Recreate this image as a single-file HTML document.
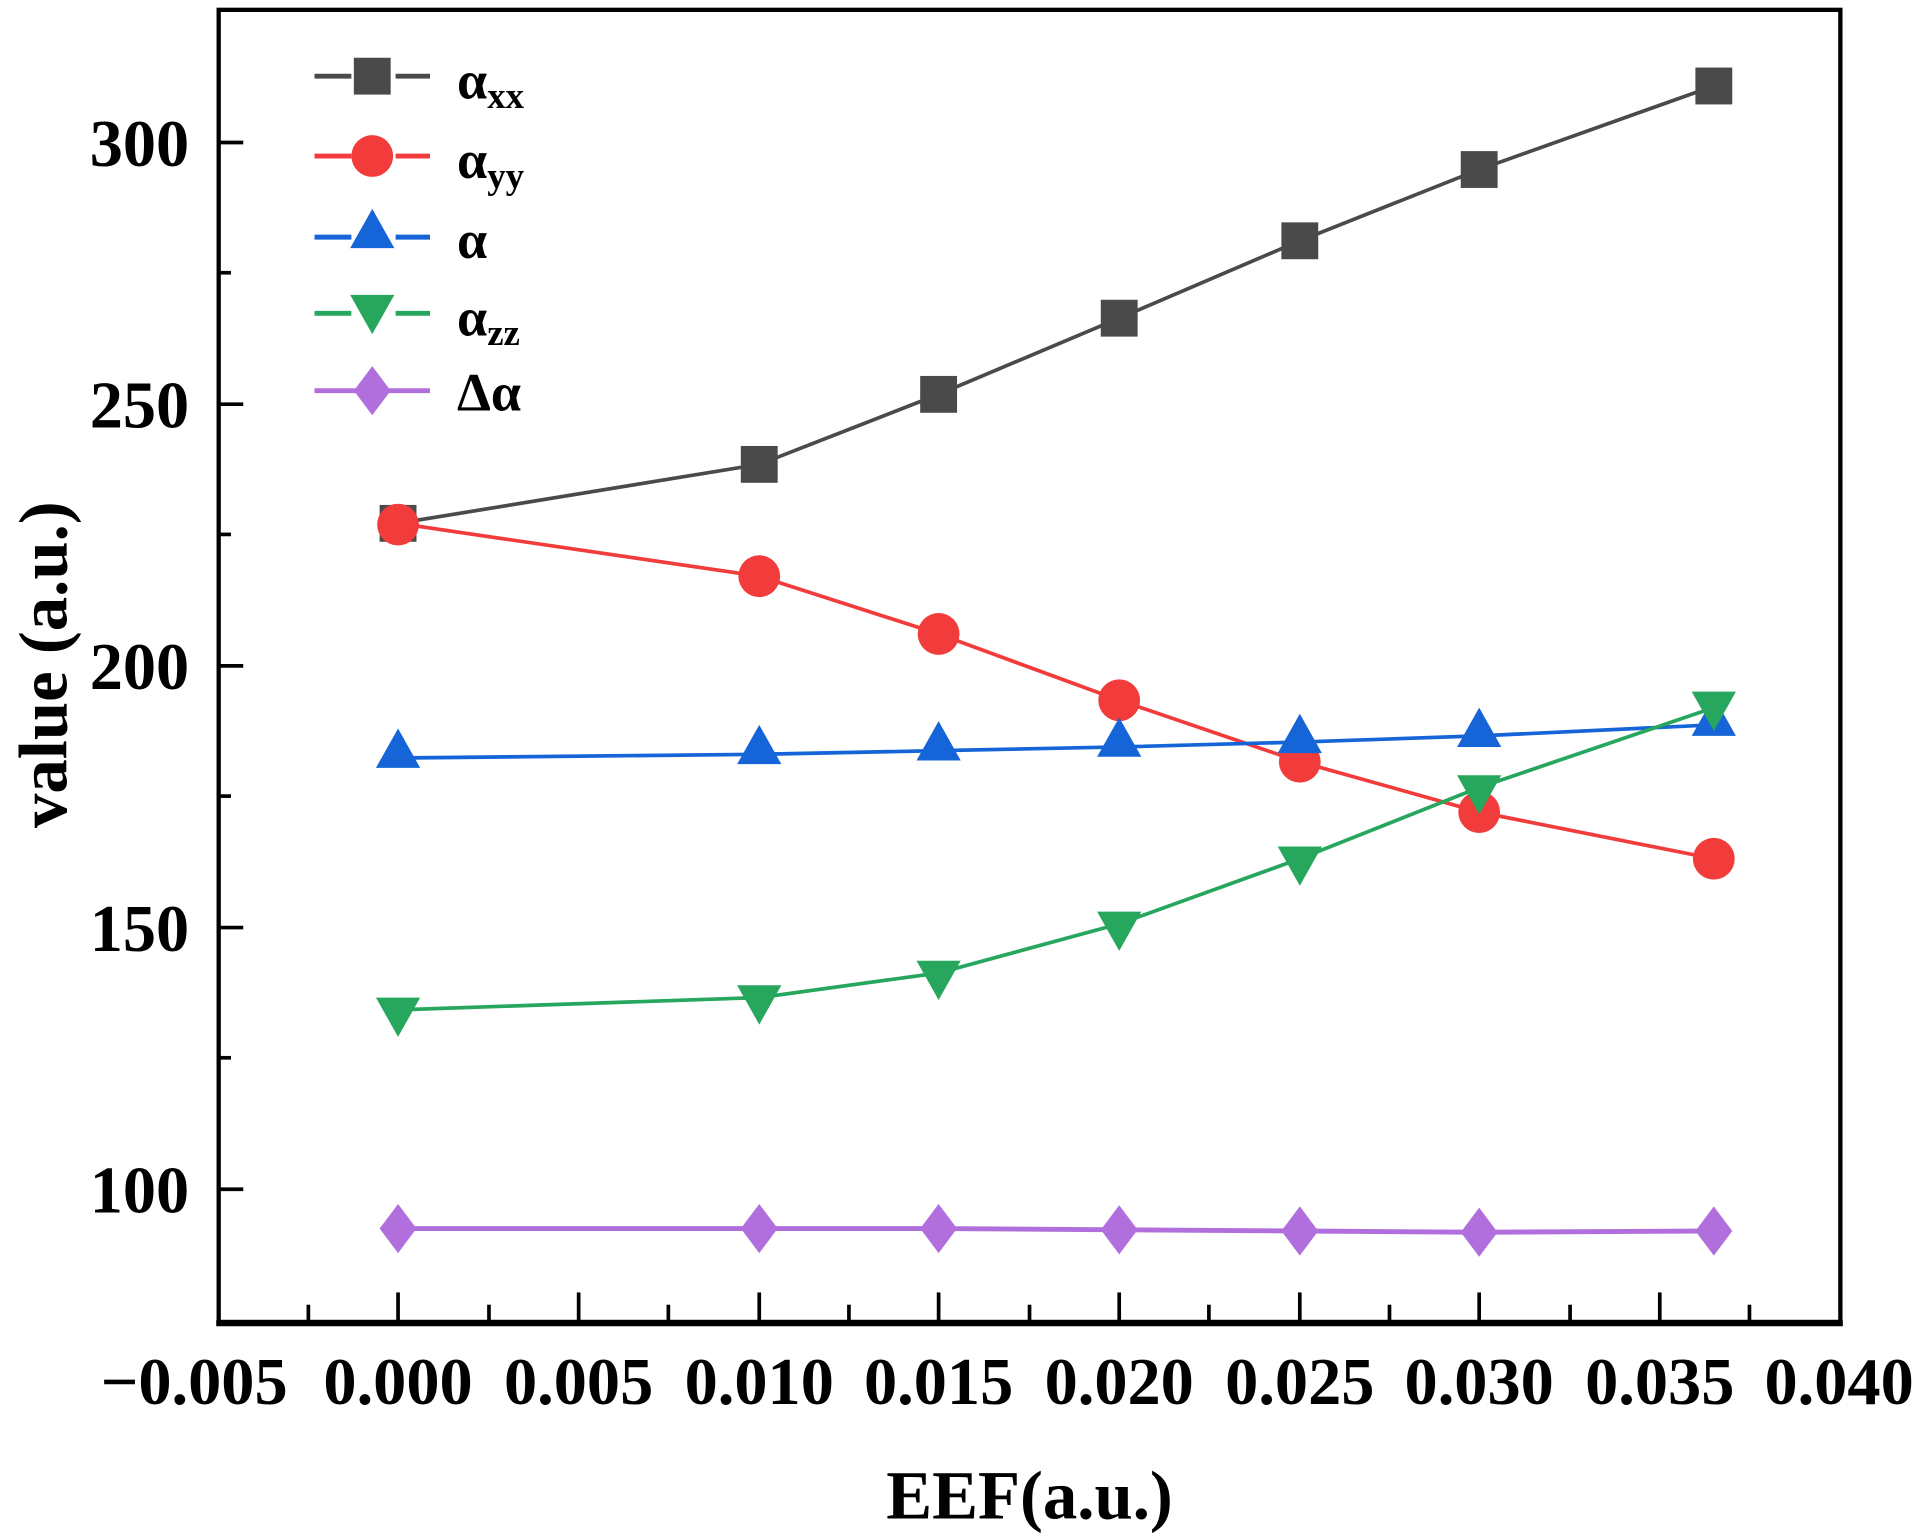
<!DOCTYPE html>
<html><head><meta charset="utf-8"><style>html,body{margin:0;padding:0;background:#fff;}svg{display:block}</style></head>
<body>
<svg width="1919" height="1539" viewBox="0 0 1562 1252.7" xmlns="http://www.w3.org/2000/svg" font-family="Liberation Serif, serif" font-weight="bold">
<defs>
<g id="sq"><rect x="-15" y="-15" width="30" height="30" fill="#4a4a4a"/></g>
<g id="ci"><circle r="17" fill="#f23c3c"/></g>
<g id="tu"><polygon points="0,-19 18,13 -18,13" fill="#1565d8"/></g>
<g id="td"><polygon points="0,19 18,-13 -18,-13" fill="#27a65e"/></g>
<g id="di"><polygon points="0,-20 15,0 0,20 -15,0" fill="#b06fdc"/></g>
</defs>
<rect x="178" y="8" width="1320" height="1068" fill="none" stroke="#000" stroke-width="3.5"/>
<line x1="176" y1="1077" x2="1500" y2="1077" stroke="#000" stroke-width="5"/>
<g stroke="#000" stroke-width="3">
<line x1="251" y1="1076" x2="251" y2="1062"/><line x1="324" y1="1076" x2="324" y2="1052"/>
<line x1="398" y1="1076" x2="398" y2="1062"/><line x1="471" y1="1076" x2="471" y2="1052"/>
<line x1="544" y1="1076" x2="544" y2="1062"/><line x1="618" y1="1076" x2="618" y2="1052"/>
<line x1="691" y1="1076" x2="691" y2="1062"/><line x1="764" y1="1076" x2="764" y2="1052"/>
<line x1="838" y1="1076" x2="838" y2="1062"/><line x1="911" y1="1076" x2="911" y2="1052"/>
<line x1="984" y1="1076" x2="984" y2="1062"/><line x1="1058" y1="1076" x2="1058" y2="1052"/>
<line x1="1131" y1="1076" x2="1131" y2="1062"/><line x1="1204" y1="1076" x2="1204" y2="1052"/>
<line x1="1278" y1="1076" x2="1278" y2="1062"/><line x1="1351" y1="1076" x2="1351" y2="1052"/>
<line x1="1424" y1="1076" x2="1424" y2="1062"/>
<line x1="178" y1="116" x2="198" y2="116"/><line x1="178" y1="222" x2="188" y2="222"/>
<line x1="178" y1="329" x2="198" y2="329"/><line x1="178" y1="435" x2="188" y2="435"/>
<line x1="178" y1="542" x2="198" y2="542"/><line x1="178" y1="648" x2="188" y2="648"/>
<line x1="178" y1="755" x2="198" y2="755"/><line x1="178" y1="861" x2="188" y2="861"/>
<line x1="178" y1="968" x2="198" y2="968"/>
</g>
<g font-size="54" text-anchor="end">
<text x="154" y="135">300</text><text x="154" y="348">250</text><text x="154" y="561">200</text><text x="154" y="774">150</text><text x="154" y="987">100</text>
</g>
<g font-size="54" text-anchor="middle">
<text x="158" y="1143">−0.005</text><text x="324" y="1143">0.000</text><text x="471" y="1143">0.005</text><text x="618" y="1143">0.010</text><text x="764" y="1143">0.015</text><text x="911" y="1143">0.020</text><text x="1058" y="1143">0.025</text><text x="1204" y="1143">0.030</text><text x="1351" y="1143">0.035</text><text x="1497" y="1143">0.040</text>
</g>
<text x="838" y="1236" font-size="56" text-anchor="middle">EEF(a.u.)</text>
<text transform="translate(54,541) rotate(-90)" font-size="56" text-anchor="middle">value (a.u.)</text>
<polyline fill="none" stroke="#4a4a4a" stroke-width="3" points="324,426 618,378 764,321 911,259 1058,196 1204,138 1395,70"/>
<polyline fill="none" stroke="#f23c3c" stroke-width="3" points="324,426 618,469 764,516 911,570 1058,620 1204,661 1395,699"/>
<polyline fill="none" stroke="#1565d8" stroke-width="3" points="324,617 618,614 764,611 911,608 1058,604 1204,599 1395,590"/>
<polyline fill="none" stroke="#27a65e" stroke-width="3" points="324,822 618,812 764,792 911,752 1058,699 1204,641 1395,576"/>
<polyline fill="none" stroke="#b06fdc" stroke-width="4" points="324,1000 618,1000 764,1000 911,1001 1058,1002 1204,1003 1395,1002"/>
<use href="#sq" x="324" y="426"/><use href="#sq" x="618" y="378"/><use href="#sq" x="764" y="321"/><use href="#sq" x="911" y="259"/><use href="#sq" x="1058" y="196"/><use href="#sq" x="1204" y="138"/><use href="#sq" x="1395" y="70"/>
<use href="#ci" x="324" y="427"/><use href="#ci" x="618" y="469"/><use href="#ci" x="764" y="516"/><use href="#ci" x="911" y="570"/><use href="#ci" x="1058" y="620"/><use href="#ci" x="1204" y="661"/><use href="#ci" x="1395" y="699"/>
<use href="#tu" x="324" y="612"/><use href="#tu" x="618" y="609"/><use href="#tu" x="764" y="606"/><use href="#tu" x="911" y="603"/><use href="#tu" x="1058" y="600"/><use href="#tu" x="1204" y="595"/><use href="#tu" x="1395" y="586"/>
<use href="#td" x="324" y="825"/><use href="#td" x="618" y="815"/><use href="#td" x="764" y="795"/><use href="#td" x="911" y="755"/><use href="#td" x="1058" y="702"/><use href="#td" x="1204" y="644"/><use href="#td" x="1395" y="576"/>
<use href="#di" x="324" y="1000"/><use href="#di" x="618" y="1000"/><use href="#di" x="764" y="1000"/><use href="#di" x="911" y="1001"/><use href="#di" x="1058" y="1002"/><use href="#di" x="1204" y="1003"/><use href="#di" x="1395" y="1002"/>
<g stroke-width="4">
<line x1="256" y1="62" x2="350" y2="62" stroke="#4a4a4a" stroke-dasharray="30 36"/>
<line x1="256" y1="127" x2="350" y2="127" stroke="#f23c3c" stroke-dasharray="30 36"/>
<line x1="256" y1="193" x2="350" y2="193" stroke="#1565d8" stroke-dasharray="30 36"/>
<line x1="256" y1="255" x2="350" y2="255" stroke="#27a65e" stroke-dasharray="30 36"/>
<line x1="256" y1="318" x2="350" y2="318" stroke="#b06fdc"/>
</g>
<use href="#sq" x="303" y="62"/><use href="#ci" x="303" y="127"/><use href="#tu" x="303" y="189"/><use href="#td" x="303" y="253"/><use href="#di" x="303" y="318"/>
<g font-size="44">
<text x="372" y="80">α<tspan font-size="30" dy="8">xx</tspan></text>
<text x="372" y="145">α<tspan font-size="30" dy="8">yy</tspan></text>
<text x="372" y="210">α</text>
<text x="372" y="273">α<tspan font-size="30" dy="8">zz</tspan></text>
<text x="372" y="334">Δα</text>
</g>
</svg>
</body></html>
